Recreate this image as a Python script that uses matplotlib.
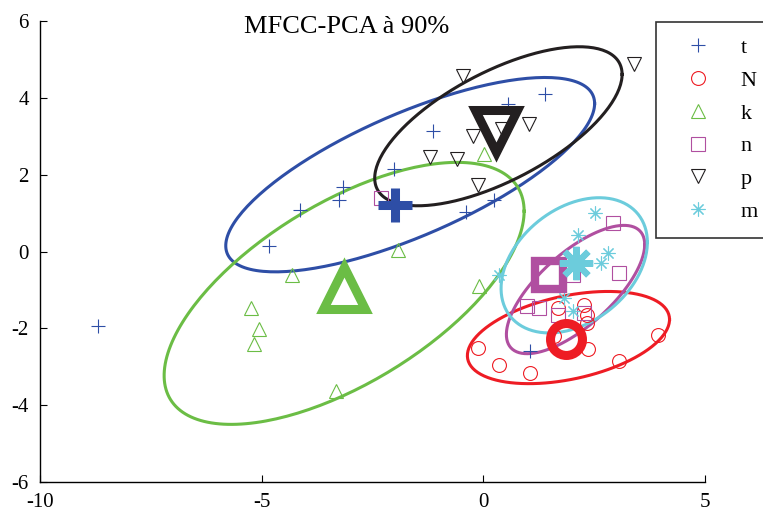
"""
Nuage MFCC-PCA (90 %) par phoneme, avec ellipses et centres de classe.
"""

import matplotlib

matplotlib.use("Agg")
import matplotlib.pyplot as plt  # noqa: E402
import numpy as np  # noqa: E402

plt.rcParams["font.family"] = ["Liberation Serif", "DejaVu Serif"]
plt.rcParams["axes.unicode_minus"] = False

# points de chaque classe
t_x = [-8.69, -4.83, -4.13, -3.25, -3.16, -2.01, -1.14, 0.56, 1.38, 0.23, -0.38, 1.06]
t_y = [-1.95, 0.15, 1.07, 1.33, 1.67, 2.15, 3.14, 3.83, 4.09, 1.35, 1.04, -2.58]

N_x = [-0.11, 0.36, 1.06, 3.05, 3.95, 2.35, 1.69, 2.26, 2.33, 2.33, 1.60]
N_y = [-2.52, -2.95, -3.17, -2.86, -2.17, -2.53, -1.48, -1.38, -1.64, -1.87, -2.20]

k_x = [-5.24, -5.06, -5.17, -4.31, -1.92, -0.09, -3.32, 0.02]
k_y = [-1.48, -2.03, -2.42, -0.60, 0.03, -0.91, -3.62, 2.53]

n_x = [2.93, 3.05, 2.03, 0.99, 1.26, 1.69, 2.28, -2.30]
n_y = [0.73, -0.57, -0.60, -1.41, -1.46, -1.64, -1.61, 1.38]

p_x = [-0.45, 3.39, 1.04, -0.23, 0.41, -1.20, -0.59, -0.11]
p_y = [4.56, 4.87, 3.33, 3.00, 3.18, 2.45, 2.40, 1.74]

m_x = [2.53, 2.14, 2.82, 2.66, 0.36, 1.83, 2.03]
m_y = [0.99, 0.44, -0.05, -0.31, -0.60, -1.22, -1.56]

labels = ["t", "N", "k", "n", "p", "m"]

# centres de classe (gros symboles)
mean_x = [-2.00, 1.87, -3.14, 1.49, 0.29, 2.10]
mean_y = [1.22, -2.29, -0.96, -0.62, 3.13, -0.31]

# ellipses : centre, demi-etendues en x et y, decalage y au point le plus a droite
ell_cx = [-1.65, 1.92, -3.14, 2.08, 0.34, 2.05]
ell_cy = [2.00, -2.24, -1.09, -0.99, 3.26, -0.36]
ell_sx = [4.16, 2.28, 4.06, 1.56, 2.79, 1.65]
ell_sy = [2.53, 1.20, 3.41, 1.67, 2.07, 1.76]
ell_off = [1.85, 0.47, 2.14, 1.17, 1.35, 0.60]

colors = ["#2E4EA6", "#EE1C24", "#6BBD45", "#B04FA0", "#231F20", "#6CCCDC"]
markers = ["+", "o", "^", "s", "v", (8, 2, 0)]
big_ms = [24, 23, 30, 20, 30, 24]
big_mew = [6.5, 6.5, 6.5, 6.0, 6.5, 4.5]

xs = [t_x, N_x, k_x, n_x, p_x, m_x]
ys = [t_y, N_y, k_y, n_y, p_y, m_y]

fig = plt.figure(figsize=(7.63, 5.11), dpi=100)
ax = fig.add_axes([40 / 763, 1 - 482 / 511, 665 / 763, 461 / 511])

theta = np.linspace(0, 2 * np.pi, 200)
handles = []
for i in range(6):
    (h,) = ax.plot(xs[i], ys[i], linestyle="none", marker=markers[i], markersize=10,
                   markerfacecolor="none", markeredgecolor=colors[i],
                   markeredgewidth=0.8, label=labels[i], zorder=3)
    handles.append(h)
    ex = ell_cx[i] + ell_sx[i] * np.cos(theta)
    ey = (ell_cy[i] + ell_off[i] * np.cos(theta)
          + np.sqrt(ell_sy[i] ** 2 - ell_off[i] ** 2) * np.sin(theta))
    ax.plot(ex, ey, color=colors[i], linewidth=2.2, zorder=2)

for i in range(6):
    ax.plot(mean_x[i], mean_y[i], linestyle="none", marker=markers[i],
            markersize=big_ms[i], markerfacecolor="none",
            markeredgecolor=colors[i], markeredgewidth=big_mew[i], zorder=4)

ax.set_xlim(-10, 5)
ax.set_ylim(-6, 6)
ax.set_xticks([-10, -5, 0, 5])
ax.set_yticks([-6, -4, -2, 0, 2, 4, 6])
ax.tick_params(direction="in", length=5, width=0.8, labelsize=15, pad=8)
ax.spines[["top", "right"]].set_visible(False)
ax.spines[["left", "bottom"]].set_linewidth(1.0)

fig.text(347 / 763, 1 - 27 / 511, "MFCC-PCA à 90%", fontsize=19,
         ha="center", va="center")

leg = ax.legend(handles=handles, loc="upper left",
                bbox_to_anchor=(656 / 763, 1 - 22 / 511),
                bbox_transform=fig.transFigure, fontsize=16, frameon=True,
                fancybox=False, borderaxespad=0, borderpad=0.7,
                handlelength=2.4, handletextpad=0.7, labelspacing=0.55)
leg.get_frame().set_edgecolor("black")
leg.get_frame().set_linewidth(1.2)

fig.savefig("out.png")
plt.close(fig)
